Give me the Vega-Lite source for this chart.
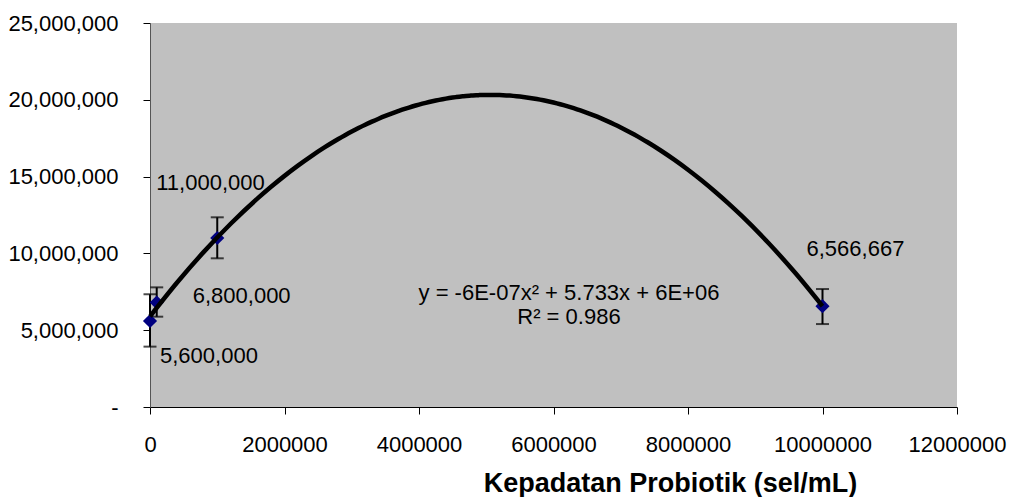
{
  "$schema": "https://vega.github.io/schema/vega-lite/v6.json",
  "width": 807,
  "height": 384,
  "autosize": {"type": "none"},
  "padding": {"left": 150, "top": 23, "right": 52, "bottom": 90},
  "background": "white",
  "view": {"fill": "#C0C0C0", "stroke": null},
  "config": {
    "font": "Liberation Sans",
    "axis": {"grid": false, "tickSize": 7, "tickColor": "black", "labelColor": "black", "labelFontSize": 22, "labelFlush": false, "labelOverlap": false, "domainWidth": 1},
    "axisX": {"domainColor": "black", "labelPadding": 20},
    "axisY": {"domainColor": "#555555", "labelPadding": 25}
  },
  "data": {
    "values": [
      {"x": 0, "y": 5600000, "lo": 3930000, "hi": 7340000, "label": "5,600,000"},
      {"x": 100000, "y": 6800000, "lo": 5880000, "hi": 7790000, "label": "6,800,000"},
      {"x": 1000000, "y": 11000000, "lo": 9680000, "hi": 12350000, "label": "11,000,000"},
      {"x": 10000000, "y": 6566667, "lo": 5400000, "hi": 7680000, "label": "6,566,667"}
    ]
  },
  "layer": [
    {
      "mark": {"type": "rule", "color": "black", "strokeWidth": 2},
      "encoding": {
        "x": {"field": "x", "type": "quantitative"},
        "y": {"field": "lo", "type": "quantitative"},
        "y2": {"field": "hi"}
      }
    },
    {
      "mark": {"type": "tick", "orient": "horizontal", "color": "black", "size": 13, "thickness": 2},
      "encoding": {
        "x": {"field": "x", "type": "quantitative"},
        "y": {"field": "hi", "type": "quantitative"}
      }
    },
    {
      "mark": {"type": "tick", "orient": "horizontal", "color": "black", "size": 13, "thickness": 2},
      "encoding": {
        "x": {"field": "x", "type": "quantitative"},
        "y": {"field": "lo", "type": "quantitative"}
      }
    },
    {
      "mark": {"type": "point", "shape": "diamond", "filled": true, "color": "#000080", "opacity": 1, "size": 200},
      "encoding": {
        "x": {
          "field": "x", "type": "quantitative",
          "scale": {"domain": [0, 12000000], "nice": false, "zero": false},
          "axis": {
            "values": [0, 2000000, 4000000, 6000000, 8000000, 10000000, 12000000],
            "format": "d",
            "title": "Kepadatan Probiotik (sel/mL)",
            "titleFontSize": 27,
            "titleFontWeight": "bold",
            "titleColor": "black",
            "titleX": 520,
            "titleY": 84,
            "titleAlign": "center",
            "titleBaseline": "alphabetic"
          }
        },
        "y": {
          "field": "y", "type": "quantitative",
          "scale": {"domain": [0, 25000000], "nice": false},
          "axis": {
            "values": [0, 5000000, 10000000, 15000000, 20000000, 25000000],
            "labelExpr": "datum.value == 0 ? '-' : format(datum.value, ',')",
            "title": null
          }
        }
      }
    },
    {
      "transform": [
        {"regression": "y", "on": "x", "method": "poly", "order": 2, "extent": [0, 10000000]}
      ],
      "mark": {"type": "line", "color": "black", "strokeWidth": 4.5, "interpolate": "monotone"},
      "encoding": {
        "x": {"field": "x", "type": "quantitative"},
        "y": {"field": "y", "type": "quantitative"}
      }
    },
    {
      "transform": [{"filter": "datum.x == 0"}],
      "mark": {"type": "text", "align": "left", "baseline": "middle", "fontSize": 22, "color": "black", "dx": 10, "dy": 35},
      "encoding": {
        "x": {"field": "x", "type": "quantitative"},
        "y": {"field": "y", "type": "quantitative"},
        "text": {"field": "label"}
      }
    },
    {
      "transform": [{"filter": "datum.x == 100000"}],
      "mark": {"type": "text", "align": "left", "baseline": "middle", "fontSize": 22, "color": "black", "dx": 36, "dy": -7},
      "encoding": {
        "x": {"field": "x", "type": "quantitative"},
        "y": {"field": "y", "type": "quantitative"},
        "text": {"field": "label"}
      }
    },
    {
      "transform": [{"filter": "datum.x == 1000000"}],
      "mark": {"type": "text", "align": "left", "baseline": "middle", "fontSize": 22, "color": "black", "dx": -61, "dy": -55},
      "encoding": {
        "x": {"field": "x", "type": "quantitative"},
        "y": {"field": "y", "type": "quantitative"},
        "text": {"field": "label"}
      }
    },
    {
      "transform": [{"filter": "datum.x == 10000000"}],
      "mark": {"type": "text", "align": "left", "baseline": "middle", "fontSize": 22, "color": "black", "dx": -16, "dy": -57},
      "encoding": {
        "x": {"field": "x", "type": "quantitative"},
        "y": {"field": "y", "type": "quantitative"},
        "text": {"field": "label"}
      }
    },
    {
      "data": {"values": [{"note": "trendline"}]},
      "mark": {"type": "text", "align": "center", "baseline": "middle", "fontSize": 22, "color": "black", "lineHeight": 24, "text": ["y = -6E-07x² + 5.733x + 6E+06", "R² = 0.986"]},
      "encoding": {
        "x": {"datum": 6230000, "type": "quantitative"},
        "y": {"datum": 7420000, "type": "quantitative"}
      }
    }
  ]
}
